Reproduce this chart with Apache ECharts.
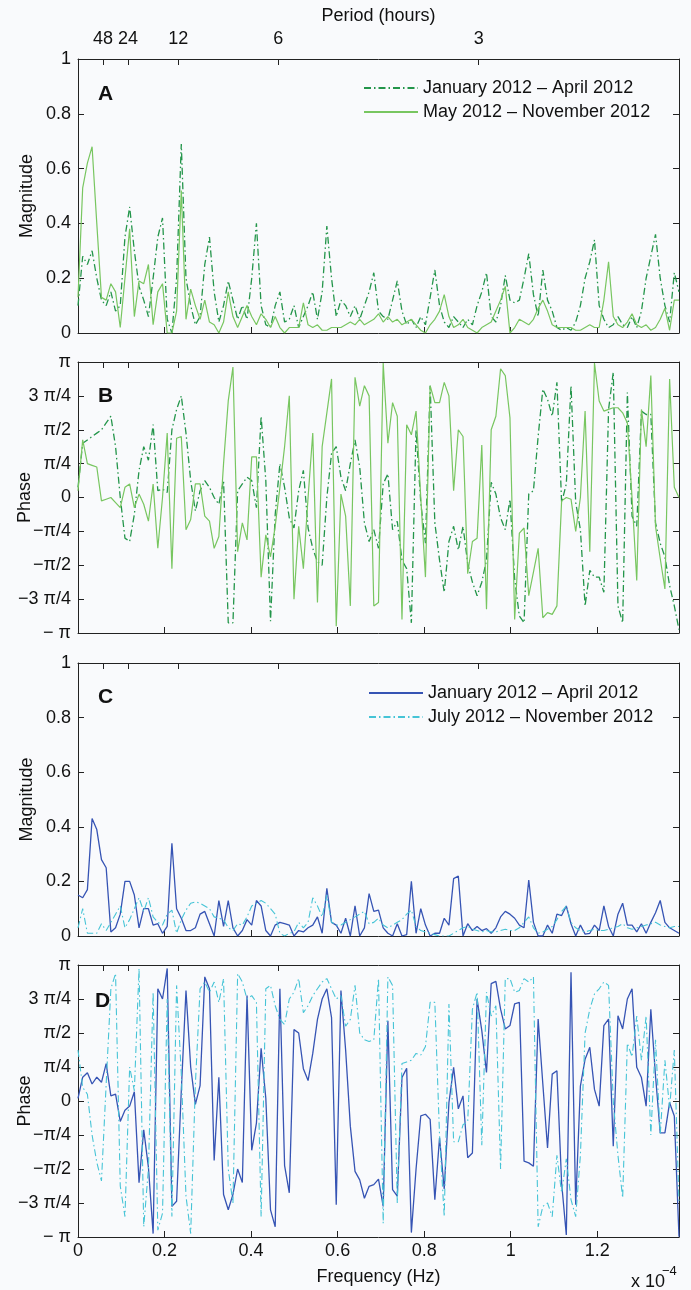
<!DOCTYPE html>
<html><head><meta charset="utf-8">
<script src="https://cdn.jsdelivr.net/npm/echarts@6/dist/echarts.min.js"></script>
<style>html,body{margin:0;padding:0;background:#f9fafc;}#c{width:691px;height:1290px;}</style>
</head><body><div id="c"></div>
<script>
// FFT bins 0..128 of a 256-point transform of hourly samples, frequency in units of 1e-4 Hz
const binCount = 129;
const binWidth = 1 / (256 * 3600) * 1e4;
const freq = Array.from({length: binCount}, (_, k) => k * binWidth);
const xTicks = [0, 0.2, 0.4, 0.6, 0.8, 1, 1.2];
const periodHours = [48, 24, 12, 6, 3];
const magTicks = [0, 0.2, 0.4, 0.6, 0.8, 1];
// phase values below are in units of pi/4
const phaseTickLabels = ['\u2212 \u03c0', '\u22123 \u03c0/4', '\u2212\u03c0/2', '\u2212\u03c0/4', '0', '\u03c0/4', '\u03c0/2', '3 \u03c0/4', '\u03c0'];

const magA_JanApr = [0.1,0.28,0.25,0.3,0.2,0.12,0.1,0.15,0.08,0.1,
 0.35,0.46,0.3,0.17,0.12,0.06,0.2,0.35,0.42,0.05,
 0.0,0.2,0.69,0.2,0.1,0.03,0.06,0.25,0.35,0.15,
 0.04,0.1,0.19,0.12,0.05,0.1,0.05,0.2,0.4,0.1,
 0.03,0.02,0.1,0.15,0.04,0.05,0.1,0.02,0.06,0.1,
 0.15,0.05,0.15,0.39,0.2,0.06,0.12,0.1,0.06,0.1,
 0.05,0.1,0.15,0.22,0.08,0.06,0.05,0.12,0.19,0.08,
 0.03,0.05,0.02,0.06,0.03,0.13,0.23,0.1,0.04,0.02,
 0.06,0.04,0.02,0.05,0.03,0.1,0.15,0.22,0.06,0.04,
 0.1,0.21,0.12,0.11,0.12,0.2,0.29,0.14,0.06,0.23,
 0.12,0.08,0.02,0.01,0.02,0.01,0.04,0.1,0.2,0.26,
 0.34,0.1,0.05,0.02,0.03,0.06,0.03,0.02,0.06,0.02,
 0.08,0.2,0.28,0.36,0.2,0.1,0.04,0.22,0.15];
const magA_MayNov = [0.13,0.53,0.62,0.68,0.4,0.13,0.12,0.18,0.15,0.02,
 0.2,0.38,0.06,0.19,0.18,0.25,0.03,0.15,0.18,0.0,
 0.0,0.08,0.52,0.05,0.16,0.1,0.05,0.12,0.04,0.03,
 0.0,0.04,0.15,0.06,0.02,0.06,0.1,0.06,0.03,0.07,
 0.05,0.02,0.06,0.02,0.0,0.02,0.02,0.02,0.11,0.03,
 0.02,0.03,0.01,0.01,0.02,0.02,0.02,0.03,0.04,0.03,
 0.05,0.03,0.04,0.05,0.07,0.04,0.06,0.04,0.05,0.03,
 0.04,0.05,0.03,0.01,0.0,0.03,0.05,0.08,0.14,0.06,
 0.02,0.03,0.05,0.02,0.01,0.0,0.02,0.03,0.04,0.08,
 0.12,0.17,0.0,0.02,0.05,0.04,0.03,0.05,0.09,0.12,
 0.08,0.03,0.02,0.02,0.02,0.02,0.01,0.01,0.02,0.03,
 0.02,0.02,0.12,0.26,0.06,0.03,0.02,0.04,0.07,0.03,
 0.02,0.03,0.01,0.02,0.05,0.09,0.01,0.12,0.12];
const phaseB_JanApr = [0.3,1.6,1.7,1.8,1.9,2.0,2.2,2.4,1.5,0.0,
 -1.2,-1.3,-0.5,0.8,1.5,1.1,2.15,0.2,0.25,0.15,
 2.0,2.6,3.0,1.9,0.5,-0.4,0.2,0.5,0.3,0.0,
 -0.2,0.5,-3.7,-3.7,0.2,0.4,0.6,0.5,-0.3,2.4,
 0.5,-3.65,-0.5,1.0,0.3,-0.6,-0.9,0.2,0.8,-0.9,
 -1.5,-1.9,-2.0,0.0,1.3,1.5,0.6,0.2,1.0,1.7,
 0.9,-0.75,-1.3,-0.95,-1.5,0.4,0.7,-0.95,-0.7,-1.85,
 -2.1,-3.7,2.0,-0.15,-1.35,3.3,-0.75,-1.85,-2.8,-1.3,
 -0.85,-1.55,-0.85,-1.95,-2.5,-2.9,-2.5,-1.85,0.45,0.1,
 -0.6,-0.95,-0.05,-2.4,-3.5,-3.7,0.1,0.2,1.8,3.2,
 2.9,2.4,3.4,-0.15,0.4,3.3,-0.15,-0.95,-3.2,-2.15,
 -2.35,-2.35,-2.8,2.6,3.7,-3.2,-3.7,3.1,-0.55,-0.85,
 2.55,2.45,2.45,-0.75,-1.35,-1.75,-2.6,-3.2,-3.9];
const phaseB_MayNov = [0.2,1.7,1.0,0.95,0.9,-0.1,-0.05,0.0,-0.15,-0.3,
 0.3,0.4,-0.3,0.1,-0.2,-0.7,0.4,-1.5,0.0,1.9,
 -2.1,1.75,1.8,-0.95,-0.65,0.4,0.4,-0.55,-0.7,-1.5,
 -1.15,1.0,2.85,3.85,-1.6,-0.75,-1.25,1.2,1.2,-2.35,
 -1.1,-1.75,-0.85,0.3,1.5,3.0,-3.0,-0.85,-2.1,0.0,
 1.9,-3.1,1.5,2.5,3.5,-3.8,0.1,-0.55,-3.2,3.55,
 2.7,3.3,3.0,-3.2,-3.1,3.97,1.6,2.8,2.4,-3.6,
 2.15,1.85,2.55,0.0,-2.35,3.3,2.8,2.8,3.4,3.0,
 0.2,2.0,1.8,-2.25,-1.3,-1.2,1.55,-3.3,2.0,2.4,
 3.8,3.6,2.35,-3.6,-1.05,-0.9,-2.9,-2.2,-1.5,-3.55,
 -3.4,-3.45,-3.2,-0.1,0.0,-0.05,-1.0,0.0,2.55,-1.6,
 3.97,2.85,2.55,2.6,2.65,2.65,2.5,2.2,0.0,-2.45,
 2.6,1.5,3.6,-0.85,-1.8,-2.7,3.5,0.3,0.0];
const magC_JanApr = [0.15,0.14,0.17,0.43,0.39,0.28,0.25,0.015,0.03,0.08,
 0.2,0.2,0.15,0.03,0.1,0.1,0.04,0.045,0.01,0.035,
 0.34,0.1,0.065,0.02,0.02,0.03,0.08,0.09,0.045,0.0,
 0.13,0.035,0.13,0.03,0.0,0.02,0.06,0.04,0.13,0.11,
 0.02,0.0,0.04,0.05,0.045,0.04,0.0,0.02,0.015,0.03,
 0.04,0.07,0.01,0.175,0.05,0.04,0.01,0.065,0.0,0.11,
 0.0,0.03,0.155,0.09,0.095,0.03,0.01,0.0,0.045,0.0,
 0.005,0.2,0.01,0.1,0.04,0.0,0.01,0.01,0.065,0.04,
 0.21,0.22,0.0,0.045,0.02,0.035,0.02,0.027,0.01,0.03,
 0.07,0.09,0.08,0.065,0.04,0.03,0.205,0.05,0.0,0.0,
 0.04,0.01,0.08,0.075,0.11,0.045,0.0,0.04,0.007,0.01,
 0.04,0.02,0.11,0.035,0.0,0.08,0.12,0.04,0.04,0.015,
 0.045,0.01,0.05,0.085,0.13,0.05,0.03,0.02,0.01];
const magC_JulNov = [0.03,0.1,0.01,0.01,0.01,0.045,0.02,0.05,0.08,0.11,
 0.03,0.06,0.1,0.14,0.09,0.14,0.07,0.05,0.04,0.08,
 0.095,0.01,0.06,0.095,0.12,0.125,0.12,0.11,0.1,0.07,
 0.065,0.06,0.03,0.02,0.045,0.04,0.07,0.11,0.12,0.13,
 0.12,0.1,0.08,0.01,0.0,0.01,0.015,0.05,0.03,0.05,
 0.14,0.11,0.07,0.15,0.05,0.04,0.04,0.05,0.06,0.07,
 0.08,0.09,0.045,0.05,0.065,0.04,0.03,0.04,0.05,0.06,
 0.08,0.095,0.035,0.02,0.015,0.01,0.005,0.0,0.0,0.0,
 0.01,0.02,0.03,0.035,0.025,0.02,0.015,0.02,0.015,0.015,
 0.02,0.025,0.02,0.02,0.03,0.05,0.07,0.03,0.01,0.015,
 0.025,0.035,0.06,0.09,0.11,0.05,0.03,0.02,0.015,0.02,
 0.025,0.02,0.02,0.025,0.03,0.035,0.045,0.03,0.025,0.03,
 0.035,0.04,0.045,0.05,0.04,0.035,0.03,0.035,0.035];
const phaseD_JanApr = [0.08,0.7,0.83,0.5,0.7,0.55,1.1,0.15,0.2,-0.6,
 -0.27,-0.15,0.27,-2.4,-0.85,-1.95,-3.9,3.3,3.0,3.9,
 -3.1,-2.95,0.3,3.25,1.0,-0.1,0.45,3.65,3.3,-1.75,
 0.7,-2.75,-3.2,-2.75,-2.0,-2.4,3.1,-1.45,-0.65,1.55,
 0.08,-3.2,-3.7,3.3,-1.9,-2.7,2.1,2.0,0.95,0.6,
 1.4,2.4,3.0,3.3,2.45,-3.05,3.25,1.5,-0.74,-2.07,
 -2.32,-2.86,-2.51,-2.46,-2.3,-3.1,2.36,-2.61,-2.8,0.69,
 0.96,-3.87,-2.0,-0.44,-0.39,-0.54,-2.9,-1.08,-2.59,-0.05,
 0.99,-0.23,0.15,-1.67,-1.53,3.0,2.07,0.84,3.45,3.52,
 2.7,2.12,2.22,2.86,2.9,-1.77,-1.82,-1.92,2.41,0.5,
 -1.38,0.79,0.89,-2.41,-3.94,3.79,-3.05,0.44,1.23,1.58,
 0.34,-0.15,2.22,2.41,-1.33,2.51,2.12,3.0,3.3,0.99,
 0.69,-0.15,2.7,0.74,-0.94,-0.94,-0.05,-0.44,-3.99];
const phaseD_JulNov = [1.5,0.4,0.2,-1.0,-1.8,-2.35,0.5,3.3,3.75,-2.5,
 -3.4,1.0,0.3,3.9,-3.7,-2.0,3.2,-3.8,-3.3,3.0,
 -3.4,3.4,0.8,-2.8,-3.9,0.5,3.3,3.5,3.2,3.5,
 2.9,3.6,-2.0,-3.0,3.75,3.5,3.0,3.1,2.9,-3.4,
 3.3,3.4,2.8,2.4,2.25,3.0,3.2,3.6,2.6,2.8,
 3.1,3.3,3.5,3.6,3.3,3.0,3.1,2.2,2.4,3.4,
 2.0,1.8,1.75,1.8,3.6,-3.6,3.65,3.4,-3.0,1.1,
 1.15,1.2,1.4,1.35,1.6,2.9,2.9,-1.0,-3.4,2.85,
 -1.2,-1.2,-0.7,-0.6,2.7,3.2,-1.3,3.2,2.5,2.8,
 -2.0,3.6,3.6,3.2,3.25,3.6,3.5,3.65,-3.7,-3.1,
 -3.0,-3.4,-1.6,-2.7,-1.7,-2.9,-3.4,-1.6,2.0,2.7,
 3.15,3.3,3.5,3.4,0.0,-1.6,-2.85,1.7,1.3,2.5,
 1.2,2.5,-1.0,1.8,-1.0,1.2,-0.2,1.5,-3.0];

const FONT = '"Liberation Sans", Arial, Helvetica, sans-serif';
const INK = '#111';
const AX = '#222';
const xMax = (binCount - 1) * binWidth;
const periodFreq = periodHours.map(h => 1e4 / (h * 3600));

const gridTops = [59, 362, 663, 965];
const gridHeights = [274, 271, 273, 272];
const grids = gridTops.map((t, i) => ({left: 78, right: 12, top: t, height: gridHeights[i], containLabel: false, outerBoundsMode: 'none'}));
const isPhase = [false, true, false, true];

const xAxis = [], yAxis = [];
grids.forEach((g, i) => {
  xAxis.push({
    gridIndex: i, type: 'value', min: 0, max: xMax, position: 'bottom',
    axisLine: {show: true, onZero: false, lineStyle: {color: AX, width: 1}},
    axisTick: {show: true, inside: true, length: 6, customValues: xTicks, lineStyle: {color: AX}},
    axisLabel: {show: i === 3, customValues: xTicks, formatter: v => String(v), fontSize: 18, fontFamily: FONT, color: INK, margin: 5},
    splitLine: {show: false}, nameMoveOverlap: false,
    name: i === 3 ? 'Frequency (Hz)' : '', nameLocation: 'middle', nameGap: 31,
    nameTextStyle: {fontSize: 18, fontFamily: FONT, color: INK}
  });
  xAxis.push({
    gridIndex: i, type: 'value', min: 0, max: xMax, position: 'top',
    axisLine: {show: true, onZero: false, lineStyle: {color: AX, width: 1}},
    axisTick: {show: true, inside: true, length: 6, customValues: periodFreq, lineStyle: {color: AX}},
    axisLabel: {show: i === 0, customValues: periodFreq, fontSize: 18, fontFamily: FONT, color: INK, margin: 11,
      formatter: v => { const j = periodFreq.findIndex(p => Math.abs(p - v) < 1e-6); return j >= 0 ? String(periodHours[j]) : ''; }},
    splitLine: {show: false}, nameMoveOverlap: false,
    name: i === 0 ? 'Period (hours)' : '', nameLocation: 'middle', nameGap: 34,
    nameTextStyle: {fontSize: 18, fontFamily: FONT, color: INK}
  });
  const ph = isPhase[i];
  const common = ph ? {min: -4, max: 4, interval: 1} : {min: 0, max: 1, interval: 0.2};
  yAxis.push(Object.assign({
    gridIndex: i, type: 'value', position: 'left',
    axisLine: {show: true, onZero: false, lineStyle: {color: AX, width: 1}},
    axisTick: {show: true, inside: true, length: 6, lineStyle: {color: AX}},
    axisLabel: {fontSize: 18, fontFamily: FONT, color: INK, margin: 7,
      formatter: ph ? (v => phaseTickLabels[Math.round(v) + 4]) : (v => String(+v.toFixed(1)))},
    splitLine: {show: false}, nameMoveOverlap: false,
    name: ph ? 'Phase' : 'Magnitude', nameLocation: 'middle', nameGap: ph ? 44 : 42,
    nameTextStyle: {fontSize: 18, fontFamily: FONT, color: INK}
  }, common));
  yAxis.push(Object.assign({
    gridIndex: i, type: 'value', position: 'right',
    axisLine: {show: true, onZero: false, lineStyle: {color: AX, width: 1}},
    axisTick: {show: true, inside: true, length: 6, lineStyle: {color: AX}},
    axisLabel: {show: false}, splitLine: {show: false}
  }, common));
});

const pairs = arr => freq.map((f, k) => [f, arr[k]]);
const DASHDOT = [7, 3, 1.5, 3];
function line(name, panel, arr, color, dashed, width) {
  return {
    name, type: 'line', xAxisIndex: panel * 2, yAxisIndex: panel * 2,
    data: pairs(arr), showSymbol: false, symbol: 'none', clip: true, animation: false,
    lineStyle: {color, width: width || 1.2, type: dashed ? DASHDOT : 'solid'},
    itemStyle: {color}, emphasis: {disabled: true}
  };
}
const GREEN_DARK = '#23954a', GREEN_LIGHT = '#78c660', BLUE = '#3654b4', CYAN = '#46c4d6';
const series = [
  line('January 2012 \u2013 April 2012', 0, magA_JanApr, GREEN_DARK, true, 1.3),
  line('May 2012 \u2013 November 2012', 0, magA_MayNov, GREEN_LIGHT, false, 1.2),
  line('B January 2012 \u2013 April 2012', 1, phaseB_JanApr, GREEN_DARK, true, 1.3),
  line('B May 2012 \u2013 November 2012', 1, phaseB_MayNov, GREEN_LIGHT, false, 1.2),
  line('January 2012 \u2013 April 2012\u200b', 2, magC_JanApr, BLUE, false, 1.3),
  line('July 2012 \u2013 November 2012', 2, magC_JulNov, CYAN, true, 1.1),
  line('D January 2012 \u2013 April 2012', 3, phaseD_JanApr, BLUE, false, 1.3),
  line('D July 2012 \u2013 November 2012', 3, phaseD_JulNov, CYAN, true, 1.1)
];

const legendBase = {orient: 'vertical', itemWidth: 54, itemHeight: 12, itemGap: 4, selectedMode: false,
  itemStyle: {opacity: 0, borderWidth: 0},
  textStyle: {fontSize: 18, fontFamily: FONT, color: INK, lineHeight: 20}};

const option = {
  backgroundColor: '#f9fafc',
  animation: false,
  grid: grids,
  xAxis, yAxis, series,
  legend: [
    Object.assign({}, legendBase, {data: ['January 2012 \u2013 April 2012', 'May 2012 \u2013 November 2012'], left: 358, top: 73}),
    Object.assign({}, legendBase, {data: ['January 2012 \u2013 April 2012\u200b', 'July 2012 \u2013 November 2012'], left: 363, top: 678})
  ],
  graphic: [
    {type: 'text', left: 98, top: 84, style: {text: 'A', font: 'bold 21px ' + FONT, fill: INK}},
    {type: 'text', left: 98, top: 386, style: {text: 'B', font: 'bold 21px ' + FONT, fill: INK}},
    {type: 'text', left: 98, top: 687, style: {text: 'C', font: 'bold 21px ' + FONT, fill: INK}},
    {type: 'text', left: 95, top: 991, style: {text: 'D', font: 'bold 21px ' + FONT, fill: INK}},
    {type: 'text', left: 631, top: 1273, style: {text: 'x 10', font: '18px ' + FONT, fill: INK}},
    {type: 'text', left: 662, top: 1265, style: {text: '\u22124', font: '13px ' + FONT, fill: INK}}
  ]
};
const chart = echarts.init(document.getElementById('c'), null, {renderer: 'canvas'});
chart.setOption(option);
</script>
</body></html>
